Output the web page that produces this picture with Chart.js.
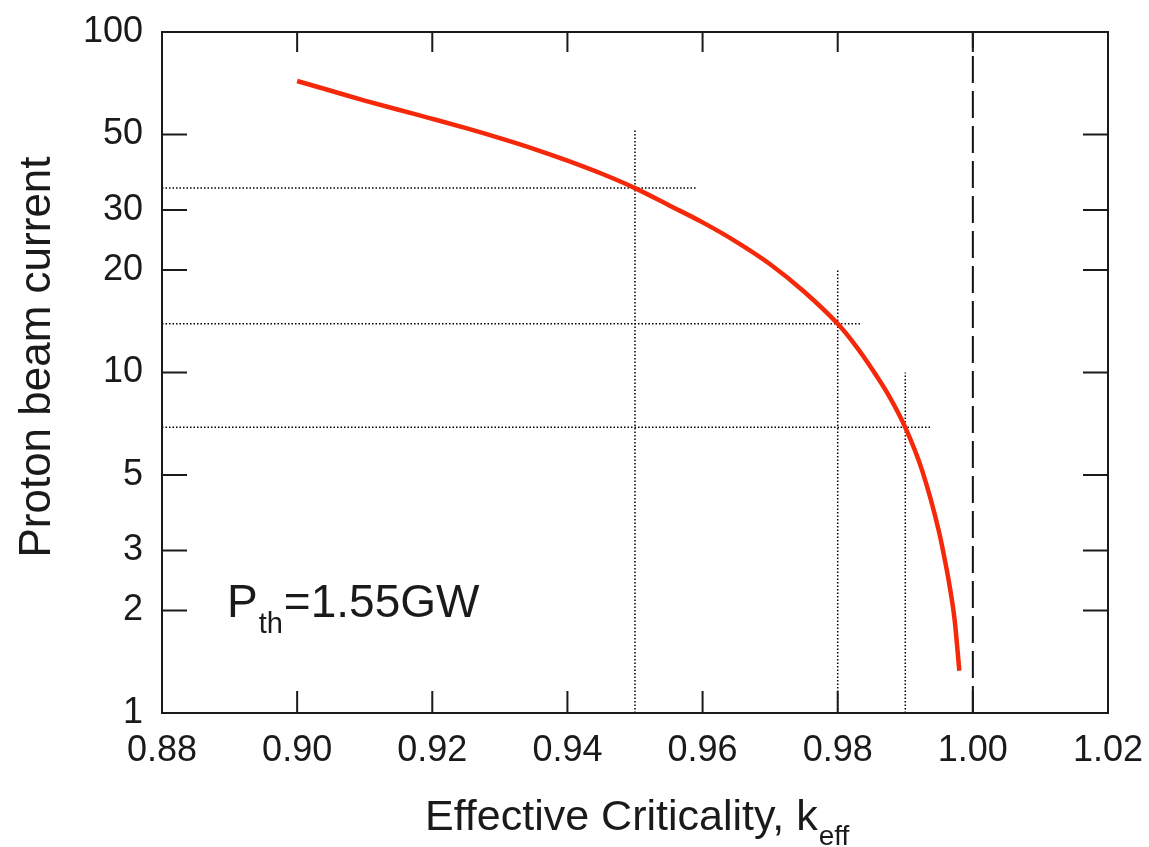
<!DOCTYPE html>
<html>
<head>
<meta charset="utf-8">
<script src="https://cdn.jsdelivr.net/npm/chart.js@4.4.1/dist/chart.umd.min.js"></script>
<style>
body{margin:0;background:#fff;}
</style>
</head>
<body>
<canvas id="mycanvas" width="1149" height="847"></canvas>
<script>
// curve
var keff = [0.900,0.905,0.910,0.915,0.920,0.925,0.930,0.935,0.940,0.945,0.950,0.955,0.960,0.965,0.970,0.975,0.980,0.9825,0.985,0.9875,0.990,0.9925,0.995,0.9958,0.9965,0.9973,0.998];
var current = [71.8,67.2,62.9,59.1,55.6,52.2,48.8,45.4,41.9,38.4,34.8,31.0,27.6,24.2,20.8,17.3,13.9,12.1,10.3,8.6,6.9,5.15,3.4,2.85,2.4,1.88,1.33];

// dotted guide lines
var markK = [0.95, 0.98, 0.99];
var markI = [34.8, 13.9, 6.9];
var markTop = [52, 20, 10];
var markEnd = [0.959, 0.9835, 0.9937];
var critK = 1.00;

var xTicks = [0.88,0.90,0.92,0.94,0.96,0.98,1.00,1.02];
var yTicks = [1,2,3,5,10,20,30,50,100];

var xTitle = 'Effective Criticality, k';
var xTitleSub = 'eff';
var yTitle = 'Proton beam current';
var note = 'P';
var noteSub = 'th';
var noteRest = '=1.55GW';

var FONT = '"Liberation Sans", Arial, sans-serif';
var INK = '#1a1a1a';

var datasets = [{
	data: keff.map(function(k,i){ return {x:k, y:current[i]}; }),
	borderColor: 'rgb(245,40,10)',
	borderWidth: 4.5,
	pointRadius: 0,
	cubicInterpolationMode: 'monotone',
	fill: false
}];
for(var i=0;i<markK.length;i++)
{
	datasets.push({
		data: [{x:xTicks[0], y:markI[i]}, {x:markEnd[i], y:markI[i]}],
		borderColor: '#000', borderWidth: 1.5, borderDash: [1.5,2],
		pointRadius: 0, fill: false
	});
	datasets.push({
		data: [{x:markK[i], y:yTicks[0]}, {x:markK[i], y:markTop[i]}],
		borderColor: '#000', borderWidth: 1.5, borderDash: [1.5,2],
		pointRadius: 0, fill: false
	});
}
datasets.push({
	data: [{x:critK, y:yTicks[0]}, {x:critK, y:yTicks[yTicks.length-1]}],
	borderColor: '#111', borderWidth: 2, borderDash: [27,8],
	pointRadius: 0, fill: false
});

var frame = {
	id: 'frame',
	afterDraw: function(chart){
		var c = chart.ctx, a = chart.chartArea;
		var xs = chart.scales.x, ys = chart.scales.y;
		c.save();
		c.strokeStyle = INK;
		c.lineWidth = 2;
		c.strokeRect(a.left, a.top, a.right-a.left, a.bottom-a.top);
		c.beginPath();
		xTicks.forEach(function(v){
			var px = xs.getPixelForValue(v);
			c.moveTo(px, a.bottom); c.lineTo(px, a.bottom-22);
			c.moveTo(px, a.top); c.lineTo(px, a.top+20);
		});
		yTicks.forEach(function(v){
			var py = ys.getPixelForValue(v);
			c.moveTo(a.left, py); c.lineTo(a.left+25, py);
			c.moveTo(a.right, py); c.lineTo(a.right-25, py);
		});
		c.stroke();

		c.fillStyle = INK;
		c.textBaseline = 'alphabetic';
		// x title
		c.font = '43px ' + FONT;
		c.textAlign = 'left';
		var w = c.measureText(xTitle).width;
		var x0 = 425;
		c.fillText(xTitle, x0, 830);
		c.font = '28px ' + FONT;
		c.fillText(xTitleSub, x0 + w + 1, 845);
		// y title
		c.save();
		c.translate(50, 357);
		c.rotate(-Math.PI/2);
		c.font = '44px ' + FONT;
		c.textAlign = 'center';
		c.fillText(yTitle, 0, 0);
		c.restore();
		// note
		c.font = '46px ' + FONT;
		c.fillText(note, 227, 617);
		var pw = c.measureText(note).width;
		c.font = '29px ' + FONT;
		c.fillText(noteSub, 227 + pw + 1, 633);
		var sw = c.measureText(noteSub).width;
		c.font = '46px ' + FONT;
		c.fillText(noteRest, 227 + pw + sw + 2, 617);
		c.restore();
	}
};

var ctx = document.getElementById('mycanvas');
var chart = new Chart(ctx, {
	type: 'line',
	data: { datasets: datasets },
	options: {
		responsive: false,
		animation: false,
		layout: { padding: { left: 0, right: 41, top: 32, bottom: 0 } },
		plugins: { legend: { display: false }, tooltip: { enabled: false } },
		scales: {
			x: {
				type: 'linear',
				min: 0.88, max: 1.02,
				grid: { display: false, drawTicks: false },
				border: { display: false },
				afterBuildTicks: function(s){ s.ticks = xTicks.map(function(v){ return {value:v}; }); },
				afterFit: function(s){
					s.height = 847 - 713;
					s.paddingLeft = 0; s.paddingRight = 0;
				},
				ticks: {
					padding: 16,
					color: INK,
					maxRotation: 0,
					font: { family: FONT, size: 36 },
					callback: function(v){ return Number(v).toFixed(2); }
				}
			},
			y: {
				type: 'logarithmic',
				min: 1, max: 100,
				grid: { display: false, drawTicks: false },
				border: { display: false },
				afterBuildTicks: function(s){ s.ticks = yTicks.map(function(v){ return {value:v}; }); },
				afterFit: function(s){
					s.width = 162;
					s.paddingTop = 0; s.paddingBottom = 0;
				},
				ticks: {
					padding: 19,
					color: INK,
					font: { family: FONT, size: 36 },
					callback: function(v){ return String(v); }
				}
			}
		}
	},
	plugins: [frame]
});
</script>
</body>
</html>
